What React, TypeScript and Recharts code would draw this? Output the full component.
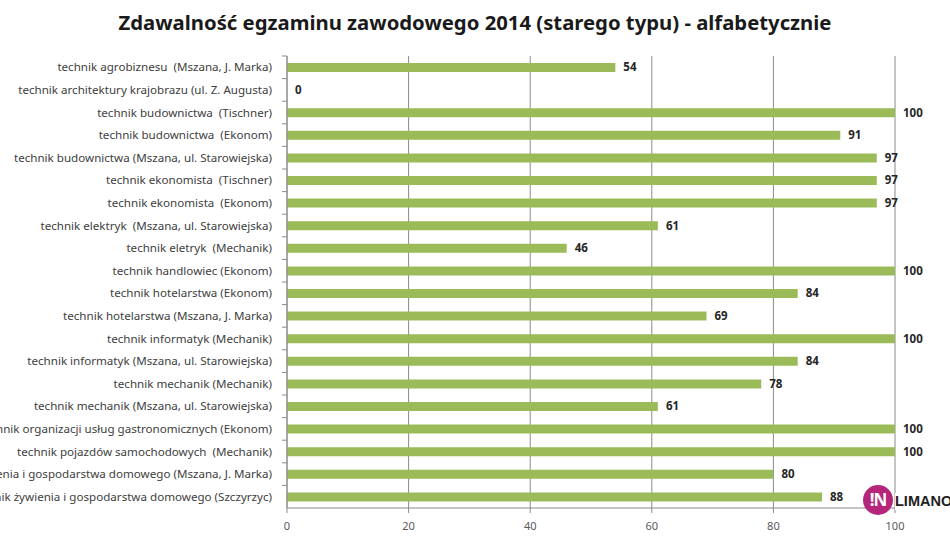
import React from "react";
import { ComposedChart, Bar, Scatter, XAxis, YAxis, CartesianGrid } from "recharts";

const categories: string[] = [
  "technik agrobiznesu  (Mszana, J. Marka)",
  "technik architektury krajobrazu (ul. Z. Augusta)",
  "technik budownictwa  (Tischner)",
  "technik budownictwa  (Ekonom)",
  "technik budownictwa (Mszana, ul. Starowiejska)",
  "technik ekonomista  (Tischner)",
  "technik ekonomista  (Ekonom)",
  "technik elektryk  (Mszana, ul. Starowiejska)",
  "technik eletryk  (Mechanik)",
  "technik handlowiec (Ekonom)",
  "technik hotelarstwa (Ekonom)",
  "technik hotelarstwa (Mszana, J. Marka)",
  "technik informatyk (Mechanik)",
  "technik informatyk (Mszana, ul. Starowiejska)",
  "technik mechanik (Mechanik)",
  "technik mechanik (Mszana, ul. Starowiejska)",
  "technik organizacji usług gastronomicznych (Ekonom)",
  "technik pojazdów samochodowych  (Mechanik)",
  "technik żywienia i gospodarstwa domowego (Mszana, J. Marka)",
  "technik żywienia i gospodarstwa domowego (Szczyrzyc)",
];

const values: number[] = [54, 0, 100, 91, 97, 97, 97, 61, 46, 100, 84, 69, 100, 84, 78, 61, 100, 100, 80, 88];

const xTicks: number[] = [0, 20, 40, 60, 80, 100];

const title = "Zdawalność egzaminu zawodowego 2014 (starego typu) - alfabetycznie";

const data = categories.map((name, i) => ({ name, value: values[i] }));

const FONT = "'Noto Sans', 'DejaVu Sans', sans-serif";
const AXIS = "#8a8a8a";

const CategoryTick = (props: any) => {
  const { x, y, payload, band } = props;
  const half = band / 2;
  return (
    <g>
      <line x1={287 - 5} x2={287} y1={y - half} y2={y - half} stroke={AXIS} strokeWidth={1} />
      <text
        x={x}
        y={y}
        dy={4}
        textAnchor="end"
        fontSize={11.6}
        fontFamily={FONT}
        fill="#404040"
        style={{ whiteSpace: "pre" }}
      >
        {payload.value}
      </text>
    </g>
  );
};

const ValueLabel = (props: any) => {
  const { cx, cy, payload } = props;
  return (
    <text
      x={Number(cx) + 8}
      y={Number(cy)}
      dy={4}
      textAnchor="start"
      fontSize={11.5}
      fontFamily={FONT}
      fontWeight={700}
      fill="#262626"
    >
      {payload.value}
    </text>
  );
};

export default function App() {
  const band = (508 - 56) / categories.length;
  return (
    <div style={{ position: "absolute", left: 0, top: 0, width: 950, height: 540, background: "#fff", overflow: "hidden" }}>
      <div
        style={{
          position: "absolute",
          left: 0,
          top: 8,
          width: 950,
          textAlign: "center",
          fontFamily: FONT,
          fontWeight: 700,
          fontSize: 20.3,
          color: "#1a1a1a",
          lineHeight: "28px",
        }}
      >
        {title}
      </div>
      <ComposedChart
        width={950}
        height={540}
        data={data}
        layout="vertical"
        margin={{ top: 56, right: 55, left: 0, bottom: 0 }}
        barCategoryGap={0}
      >
        <CartesianGrid horizontal={false} vertical={true} stroke={AXIS} strokeWidth={1} />
        <XAxis
          type="number"
          dataKey="value"
          domain={[0, 100]}
          ticks={xTicks}
          height={32}
          axisLine={{ stroke: AXIS }}
          tickLine={{ stroke: AXIS }}
          tickSize={5}
          tickMargin={9}
          tick={{ fontSize: 11, fontFamily: FONT, fill: "#595959" }}
        />
        <YAxis
          type="category"
          dataKey="name"
          width={287}
          axisLine={{ stroke: AXIS }}
          tickLine={false}
          tickSize={6}
          tickMargin={9}
          interval={0}
          tick={<CategoryTick band={band} />}
        />
        <Bar dataKey="value" fill="#9bbb59" barSize={9} isAnimationActive={false} />
        <Scatter dataKey="value" isAnimationActive={false} shape={<ValueLabel />} />
      </ComposedChart>
      <div
        style={{
          position: "absolute",
          left: 863,
          top: 485,
          width: 30,
          height: 30,
          borderRadius: "50%",
          background: "#b5267a",
          color: "#fff",
          fontFamily: FONT,
          fontWeight: 700,
          fontSize: 17,
          lineHeight: "30px",
          textAlign: "center",
          letterSpacing: -1,
        }}
      >
        !N
      </div>
      <div
        style={{
          position: "absolute",
          left: 895,
          top: 493,
          fontFamily: "'Liberation Sans Narrow', 'Liberation Sans', sans-serif",
          fontWeight: 700,
          fontSize: 14.5,
          color: "#222",
          background: "#fff",
          lineHeight: "17px",
          whiteSpace: "nowrap",
        }}
      >
        LIMANO
      </div>
    </div>
  );
}
